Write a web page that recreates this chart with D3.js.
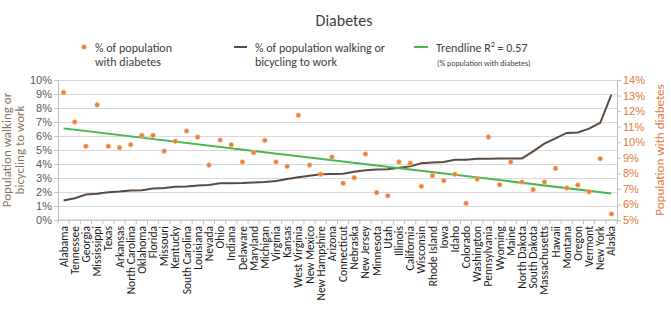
<!DOCTYPE html>
<html>
<head>
<meta charset="utf-8">
<script src="https://cdn.jsdelivr.net/npm/d3@7"></script>
<style>
  body { margin: 0; background: #fff; }
  svg { font-family: Carlito, Lato, "Open Sans", sans-serif; }
</style>
</head>
<body>
<svg id="chart" width="671" height="324"></svg>
<script>
// states, ordered by share of commuters who walk or bike
const states = ["Alabama", "Tennessee", "Georgia", "Mississippi", "Texas", "Arkansas",
  "North Carolina", "Oklahoma", "Florida", "Missouri", "Kentucky", "South Carolina",
  "Louisiana", "Nevada", "Ohio", "Indiana", "Delaware", "Maryland", "Michigan", "Virginia",
  "Kansas", "West Virginia", "New Mexico", "New Hampshire", "Arizona", "Connecticut",
  "Nebraska", "New Jersey", "Minnesota", "Utah", "Illinois", "California", "Wisconsin",
  "Rhode Island", "Iowa", "Idaho", "Colorado", "Washington", "Pennsylvania", "Wyoming",
  "Maine", "North Dakota", "South Dakota", "Massachusetts", "Hawaii", "Montana", "Oregon",
  "Vermont", "New York", "Alaska"];

// % of population with diabetes (right axis)
const diabetesPct = [13.2, 11.3, 9.74, 12.4, 9.74, 9.65, 9.84, 10.44, 10.44, 9.43,
  10.06, 10.72, 10.33, 8.53, 10.14, 9.84, 8.73, 9.33, 10.12, 8.73,
  8.45, 11.73, 8.53, 7.94, 9.05, 7.36, 7.72, 9.24, 6.76, 6.56,
  8.73, 8.64, 7.17, 7.85, 7.53, 7.94, 6.07, 7.63, 10.33, 7.27,
  8.73, 7.44, 6.95, 7.44, 8.32, 7.06, 7.25, 6.82, 8.94, 5.39];

// % of population walking or bicycling to work (left axis)
const walkBikePct = [1.4, 1.55, 1.82, 1.87, 1.98, 2.03, 2.1, 2.13, 2.25, 2.29,
  2.38, 2.4, 2.47, 2.5, 2.62, 2.62, 2.64, 2.68, 2.71, 2.78,
  2.93, 3.05, 3.16, 3.26, 3.29, 3.31, 3.44, 3.56, 3.6, 3.62,
  3.74, 3.83, 4.05, 4.1, 4.15, 4.3, 4.31, 4.37, 4.38, 4.39,
  4.4, 4.4, 4.9, 5.46, 5.83, 6.22, 6.25, 6.53, 6.94, 8.95];

// linear trendline of diabetes share, first and last state
const trendEnds = [10.89, 6.71];

const leftTicks = [0, 1, 2, 3, 4, 5, 6, 7, 8, 9, 10];
const rightTicks = [5, 6, 7, 8, 9, 10, 11, 12, 13, 14];

const plot = { left: 58, right: 617, top: 80, bottom: 220 };
const colors = { dot: "#ED7D31", walk: "#5b4b3f", trend: "#47b84b", grid: "#d9d9d9", axis: "#bfbfbf" };

const svg = d3.select("#chart");

const x = d3.scaleBand().domain(states).range([plot.left, plot.right]);
const cx = d => x(d) + x.bandwidth() / 2;
const yLeft = d3.scaleLinear().domain([0, 10]).range([plot.bottom, plot.top]);
const yRight = d3.scaleLinear().domain([5, 14]).range([plot.bottom, plot.top]);

//gridlines
svg.append("g")
  .attr("transform", `translate(${plot.left},0)`)
  .call(d3.axisLeft(yLeft).tickValues(leftTicks).tickSize(-(plot.right - plot.left)).tickFormat(""))
  .call(g => g.select(".domain").remove())
  .call(g => g.selectAll("line").attr("stroke", colors.grid));

//left axis
svg.append("g")
  .attr("transform", `translate(${plot.left},0)`)
  .call(d3.axisLeft(yLeft).tickValues(leftTicks).tickSize(4).tickFormat(d => d + "%"))
  .call(g => g.select(".domain").attr("stroke", colors.axis))
  .call(g => g.selectAll("line").attr("stroke", colors.axis))
  .call(g => g.selectAll("text").attr("fill", "#595959").attr("font-size", 11).attr("x", -6));

//right axis
svg.append("g")
  .attr("transform", `translate(${plot.right},0)`)
  .call(d3.axisRight(yRight).tickValues(rightTicks).tickSize(4).tickFormat(d => d + "%"))
  .call(g => g.select(".domain").attr("stroke", colors.axis))
  .call(g => g.selectAll("line").attr("stroke", colors.axis))
  .call(g => g.selectAll("text").attr("fill", "#E07A3A").attr("font-size", 11).attr("x", 6));

//category axis: line, ticks between states, rotated names
const xAxis = svg.append("g");
xAxis.append("line")
  .attr("x1", plot.left).attr("x2", plot.right)
  .attr("y1", plot.bottom).attr("y2", plot.bottom)
  .attr("stroke", colors.axis);
xAxis.selectAll(".tick")
  .data(states.concat(["end"]))
  .enter().append("line")
  .attr("x1", (d, i) => i < states.length ? x(d) : plot.right)
  .attr("x2", (d, i) => i < states.length ? x(d) : plot.right)
  .attr("y1", plot.bottom).attr("y2", plot.bottom + 4)
  .attr("stroke", colors.axis);
xAxis.selectAll(".name")
  .data(states)
  .enter().append("text")
  .attr("transform", d => `translate(${cx(d)},${plot.bottom + 6}) rotate(-90)`)
  .attr("text-anchor", "end")
  .attr("dy", "0.35em")
  .attr("font-size", 11.5)
  .attr("fill", "#1a1a1a")
  .text(d => d);

//walking / bicycling line
svg.append("path")
  .datum(walkBikePct)
  .attr("fill", "none")
  .attr("stroke", colors.walk)
  .attr("stroke-width", 2)
  .attr("d", d3.line().x((d, i) => cx(states[i])).y(d => yLeft(d)));

//trendline
svg.append("path")
  .datum(trendEnds)
  .attr("fill", "none")
  .attr("stroke", colors.trend)
  .attr("stroke-width", 2)
  .attr("d", d3.line().x((d, i) => cx(states[i === 0 ? 0 : states.length - 1])).y(d => yRight(d)));

//diabetes markers
svg.selectAll(".dot")
  .data(diabetesPct)
  .enter().append("circle")
  .attr("class", "dot")
  .attr("cx", (d, i) => cx(states[i]))
  .attr("cy", d => yRight(d))
  .attr("r", 2.3)
  .attr("fill", colors.dot)
  .attr("stroke", "#f4b183")
  .attr("stroke-width", 0.8);

//title
svg.append("text")
  .attr("x", 344).attr("y", 26)
  .attr("text-anchor", "middle")
  .attr("font-size", 16)
  .attr("fill", "#404040")
  .text("Diabetes");

//axis titles
svg.append("text")
  .attr("transform", `translate(11,150) rotate(-90)`)
  .attr("text-anchor", "middle")
  .attr("font-size", 13)
  .attr("fill", "#857564")
  .selectAll("tspan")
  .data(["Population walking or", "bicycling to work"])
  .enter().append("tspan")
  .attr("x", 0)
  .attr("dy", (d, i) => i === 0 ? 0 : 13)
  .text(d => d);

svg.append("text")
  .attr("transform", `translate(664,150) rotate(-90)`)
  .attr("text-anchor", "middle")
  .attr("font-size", 13)
  .attr("fill", "#E07A3A")
  .text("Population with diabetes");

//legend
const legend = svg.append("g").attr("font-size", 12).attr("fill", "#404040");
legend.append("circle")
  .attr("cx", 84).attr("cy", 47).attr("r", 2.3)
  .attr("fill", colors.dot).attr("stroke", "#f4b183").attr("stroke-width", 0.8);
legend.append("text").attr("x", 95).attr("y", 52).text("% of population");
legend.append("text").attr("x", 95).attr("y", 66).text("with diabetes");

legend.append("line")
  .attr("x1", 234).attr("x2", 247).attr("y1", 47).attr("y2", 47)
  .attr("stroke", colors.walk).attr("stroke-width", 2);
legend.append("text").attr("x", 255).attr("y", 52).text("% of population walking or");
legend.append("text").attr("x", 255).attr("y", 66).text("bicycling to work");

legend.append("line")
  .attr("x1", 414).attr("x2", 428).attr("y1", 47).attr("y2", 47)
  .attr("stroke", colors.trend).attr("stroke-width", 2);
const trendLabel = legend.append("text").attr("x", 436).attr("y", 52);
trendLabel.append("tspan").text("Trendline R");
trendLabel.append("tspan").attr("dy", -5).attr("font-size", 8).text("2");
trendLabel.append("tspan").attr("dy", 5).text(" = 0.57");
legend.append("text").attr("x", 437).attr("y", 66).attr("font-size", 8).text("(% population with diabetes)");
</script>
</body>
</html>
